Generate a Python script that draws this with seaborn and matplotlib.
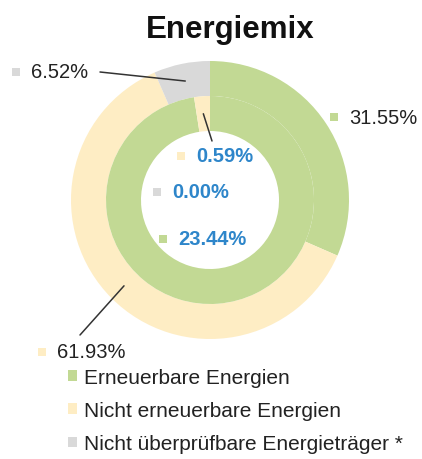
import numpy as np
import matplotlib.pyplot as plt
import seaborn as sns
from matplotlib.patches import Patch

# Data
categories = ['Erneuerbare Energien', 'Nicht erneuerbare Energien',
              'Nicht überprüfbare Energieträger *']
outer_values = [31.55, 61.93, 6.52]
inner_values = [23.44, 0.59, 0.00]
outer_labels = ['31.55%', '61.93%', '6.52%']
inner_labels = ['23.44%', '0.59%', '0.00%']

colors = ['#C2D994', '#FEEDC4', '#D9D9D9']
blue = '#2E86CA'

sns.set_style('white')
plt.rcParams['font.family'] = ['Liberation Sans', 'DejaVu Sans']

fig = plt.figure(figsize=(4.22, 4.6), dpi=100)
ax = fig.add_axes([0, 0, 1, 1])

cx, cy = 210, 259
outer_w, _ = ax.pie(outer_values, colors=colors, radius=139, center=(cx, cy),
                    startangle=90, counterclock=False,
                    wedgeprops=dict(width=35, linewidth=0))
inner_w, _ = ax.pie(inner_values, colors=colors, radius=104, center=(cx, cy),
                    startangle=90, counterclock=False,
                    wedgeprops=dict(width=35, linewidth=0))

ax.set_xlim(0, 422)
ax.set_ylim(0, 460)
ax.set_aspect('equal')
ax.axis('off')


def wedge_mid(w):
    ang = np.deg2rad((w.theta1 + w.theta2) / 2)
    r = w.r - w.width / 2
    return cx + r * np.cos(ang), cy + r * np.sin(ang)


def put_label(txt, x, y, color, tcolor='#222222', weight='normal'):
    # x, y given in picture pixels (y down)
    ax.scatter([x - 15.5], [460 - y], marker='s', s=38, color=color, linewidths=0)
    ax.text(x, 460 - y, txt, ha='left', va='center', fontsize=14.5,
            color=tcolor, fontweight=weight)


# outer ring labels
put_label(outer_labels[0], 349, 118, colors[0])
put_label(outer_labels[1], 57, 353, colors[1])
put_label(outer_labels[2], 31, 73, colors[2])

# inner ring labels
put_label(inner_labels[1], 196, 157, colors[1], blue, 'bold')
put_label(inner_labels[2], 172, 193, colors[2], blue, 'bold')
put_label(inner_labels[0], 178, 240, colors[0], blue, 'bold')

# leader lines
line_kw = dict(arrowstyle='-', color='#333333', lw=1.1, shrinkA=0, shrinkB=0)
ax.annotate('', xy=wedge_mid(outer_w[2]), xytext=(100, 460 - 73), arrowprops=line_kw)
ax.annotate('', xy=wedge_mid(outer_w[1]), xytext=(80, 460 - 336), arrowprops=line_kw)
ax.annotate('', xy=wedge_mid(inner_w[1]), xytext=(212, 460 - 142), arrowprops=line_kw)

fig.text(230 / 422, 1 - 30 / 460, 'Energiemix', ha='center', va='center',
         fontsize=22.5, fontweight='bold', color='#111111')

handles = [Patch(facecolor=c, edgecolor='none') for c in colors]
fig.legend(handles, categories, loc='upper left',
           bbox_to_anchor=(68 / 422, 1 - 369 / 460), frameon=False,
           fontsize=15, handlelength=0.42, handleheight=0.42,
           handletextpad=0.35, labelspacing=0.68, borderpad=0, borderaxespad=0,
           labelcolor='#222222')

fig.savefig('out.png', dpi=100)
